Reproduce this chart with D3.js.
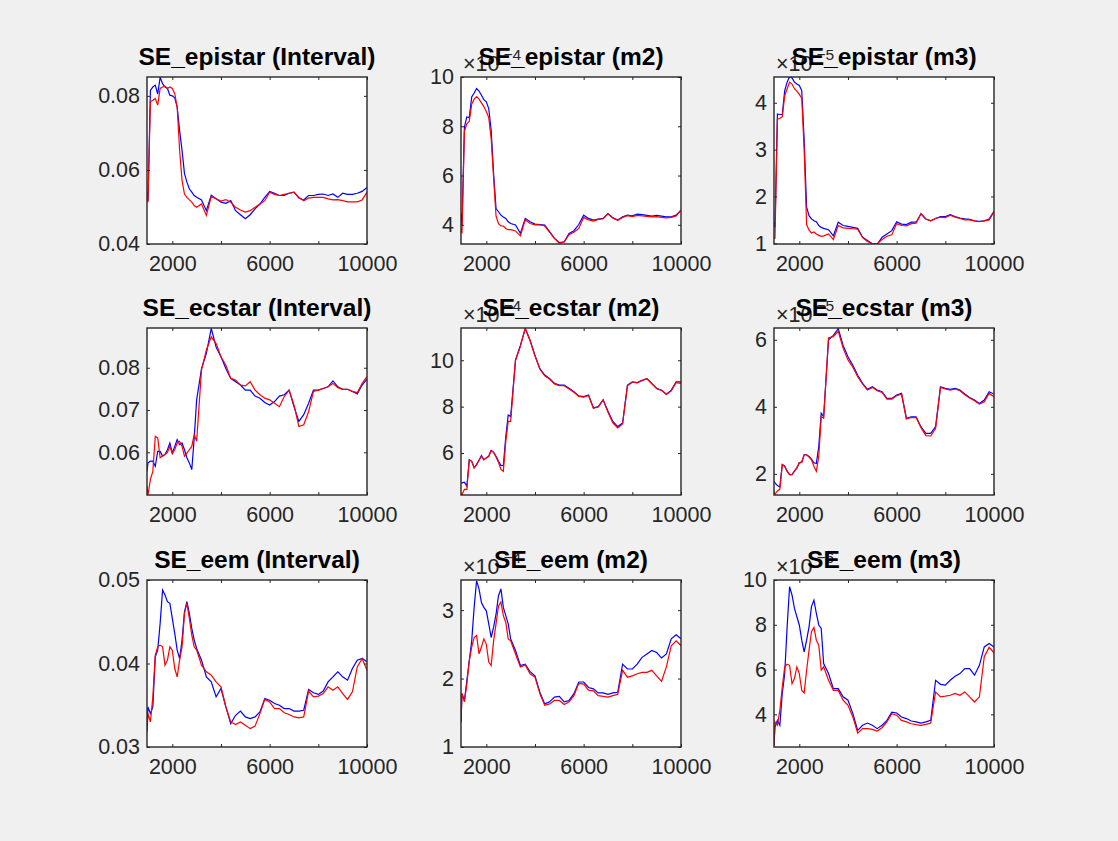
<!DOCTYPE html>
<html lang="en">
<head>
<meta charset="UTF-8">
<title>SE subplots</title>
<script src="https://cdn.jsdelivr.net/npm/d3@7/dist/d3.min.js"></script>
<style>
  body { margin: 0; background: #f0f0f0; }
  svg { display: block; }
  text { font-family: "Liberation Sans", Arial, Helvetica, sans-serif; fill: #262626; }
  .tick line { stroke: #262626; }
</style>
</head>
<body>
<svg width="1118" height="841"></svg>
<script>
// shared x grid
const xs = [960, 1000, 1100, 1200, 1300, 1400, 1500, 1600, 1700, 1800, 1900, 2000, 2100, 2200, 2300, 2400, 2500, 2600, 2700, 2800, 2900, 3000,
  3200, 3400, 3600, 3800, 4000, 4200, 4400, 4600, 4800, 5000, 5200, 5400, 5600, 5800, 6000, 6200, 6400, 6600, 6800, 7000,
  7200, 7400, 7600, 7800, 8000, 8200, 8400, 8600, 8800, 9000, 9200, 9400, 9600, 9800, 10000];

const xTicks = [2000, 4000, 6000, 8000, 10000];
const xTickLabels = ["2000", "", "6000", "", "10000"];

// SE_epistar
const epistarIntBlue = [0.054, 0.0517, 0.0815, 0.0824, 0.0829, 0.0805, 0.085, 0.0833, 0.0824, 0.082, 0.0802, 0.080, 0.0795, 0.077, 0.0707, 0.0653, 0.059, 0.0567, 0.0549, 0.054, 0.0531, 0.0526,
  0.0519, 0.049, 0.0532, 0.0522, 0.0513, 0.051, 0.0517, 0.049, 0.0479, 0.0468, 0.0479, 0.0495, 0.0508, 0.0526, 0.0542,
  0.0537, 0.0531, 0.0531, 0.0537, 0.054, 0.0524, 0.0519, 0.0531, 0.0531, 0.0534, 0.0535, 0.0531, 0.0535, 0.0526, 0.0537,
  0.0534, 0.0534, 0.0537, 0.0542, 0.0553];
const epistarIntRed = [0.054, 0.0513, 0.0784, 0.0788, 0.0793, 0.0775, 0.082, 0.0824, 0.0826, 0.082, 0.0824, 0.082, 0.0806, 0.077, 0.0653, 0.0572, 0.0535, 0.0526, 0.0519, 0.0513, 0.0504, 0.0499,
  0.0508, 0.0477, 0.0528, 0.0522, 0.0516, 0.052, 0.0513, 0.0499, 0.0492, 0.0486, 0.049, 0.0499, 0.0508, 0.0517, 0.054,
  0.0534, 0.0531, 0.0534, 0.0537, 0.054, 0.0526, 0.0517, 0.0524, 0.0526, 0.0526, 0.0526, 0.0522, 0.0519, 0.052, 0.0517,
  0.0514, 0.0514, 0.0514, 0.0519, 0.054];
const epistarM2Blue = [4.46, 3.99, 7.97, 8.38, 8.35, 9.19, 9.35, 9.53, 9.43, 9.26, 9.08, 8.99, 8.72, 7.84, 6.08, 4.66, 4.53, 4.39, 4.32, 4.26, 4.12, 4.05,
  3.99, 3.65, 4.26, 4.12, 4.03, 4.01, 3.99, 3.72, 3.45, 3.28, 3.31, 3.65, 3.76, 4.01, 4.39,
  4.26, 4.19, 4.23, 4.26, 4.46, 4.28, 4.19, 4.32, 4.39, 4.36, 4.43, 4.41, 4.38, 4.35, 4.38,
  4.35, 4.32, 4.32, 4.39, 4.59];
const epistarM2Red = [3.85, 3.65, 7.8, 8.1, 8.2, 8.9, 9.1, 9.2, 9.1, 8.95, 8.8, 8.6, 8.35, 7.5, 5.9, 4.35, 4.05, 3.95, 3.95, 3.85, 3.8, 3.8,
  3.75, 3.55, 4.2, 4.05, 4.0, 4.0, 3.95, 3.7, 3.45, 3.25, 3.3, 3.6, 3.7, 3.85, 4.3,
  4.2, 4.15, 4.22, 4.25, 4.45, 4.28, 4.18, 4.3, 4.37, 4.33, 4.38, 4.36, 4.34, 4.32, 4.33,
  4.3, 4.28, 4.3, 4.36, 4.6];
const epistarM3Blue = [1.45, 1.34, 3.76, 3.75, 3.75, 4.26, 4.44, 4.56, 4.53, 4.44, 4.4, 4.37, 4.26, 3.2, 1.77, 1.59, 1.52, 1.48, 1.46, 1.38, 1.34, 1.32,
  1.29, 1.16, 1.45, 1.38, 1.36, 1.34, 1.32, 1.13, 1.06, 0.99, 0.98, 1.13, 1.2, 1.27, 1.46,
  1.41, 1.4, 1.45, 1.45, 1.63, 1.52, 1.48, 1.53, 1.57, 1.57, 1.61, 1.57, 1.54, 1.52, 1.51,
  1.48, 1.47, 1.48, 1.52, 1.68];
const epistarM3Red = [1.14, 1.1, 3.65, 3.67, 3.7, 4.15, 4.3, 4.44, 4.4, 4.3, 4.25, 4.18, 4.1, 3.0, 1.4, 1.28, 1.22, 1.24, 1.2, 1.17, 1.15, 1.16,
  1.2, 1.08, 1.38, 1.33, 1.32, 1.31, 1.3, 1.12, 1.04, 0.99, 0.99, 1.08, 1.15, 1.18, 1.42,
  1.38, 1.37, 1.42, 1.43, 1.63, 1.52, 1.48, 1.53, 1.56, 1.55, 1.6, 1.56, 1.53, 1.5, 1.5,
  1.48, 1.46, 1.48, 1.5, 1.67];

// SE_ecstar
const ecstarIntBlue = [0.0555, 0.0575, 0.0579, 0.0579, 0.0567, 0.0602, 0.0602, 0.0591, 0.0595, 0.0606, 0.0622, 0.0598, 0.0614, 0.063, 0.0618, 0.0622, 0.0606, 0.0587, 0.0575, 0.0559, 0.0634, 0.0724,
  0.0798, 0.0834, 0.0893, 0.0849, 0.0826, 0.0798, 0.0775, 0.0767, 0.0759, 0.0747, 0.0747, 0.0733, 0.0728, 0.0718, 0.0712,
  0.072, 0.0733, 0.0736, 0.0747, 0.0708, 0.0673, 0.0689, 0.0716, 0.0747, 0.0747, 0.0751, 0.0755, 0.0769, 0.0755, 0.0749,
  0.0749, 0.0744, 0.0738, 0.0759, 0.0773];
const ecstarIntRed = [0.052, 0.0499, 0.0536, 0.0555, 0.0638, 0.0634, 0.0587, 0.0591, 0.0595, 0.06, 0.0614, 0.0597, 0.0606, 0.0622, 0.0626, 0.0614, 0.0591, 0.0598, 0.0606, 0.0614, 0.0642, 0.0626,
  0.0795, 0.0842, 0.0873, 0.0857, 0.0826, 0.0806, 0.0775, 0.0771, 0.0759, 0.0757, 0.0767, 0.0747, 0.0736, 0.0728, 0.0724,
  0.0716, 0.0708, 0.0732, 0.0747, 0.0712, 0.0661, 0.0665, 0.0696, 0.0744, 0.0747, 0.0751, 0.0755, 0.0763, 0.0753, 0.0749,
  0.0749, 0.0744, 0.0741, 0.0763, 0.0779];
const ecstarM2Blue = [4.71, 4.71, 4.74, 4.57, 5.71, 5.64, 5.36, 5.5, 5.69, 5.89, 5.71, 5.79, 5.86, 6.11, 6.03, 5.86, 5.64, 5.47, 5.46, 6.71, 7.64, 7.57,
  10.0, 10.64, 11.36, 10.86, 10.21, 9.64, 9.36, 9.21, 9.0, 8.93, 8.93, 8.79, 8.64, 8.46, 8.43,
  8.5, 7.95, 8.0, 8.3, 7.8, 7.36, 7.14, 7.3, 8.93, 9.07, 9.04, 9.14, 9.21, 9.0, 8.79,
  8.71, 8.54, 8.71, 9.07, 9.07];
const ecstarM2Red = [4.26, 4.21, 4.43, 4.43, 5.71, 5.64, 5.36, 5.5, 5.69, 5.86, 5.71, 5.79, 5.86, 6.11, 6.03, 5.83, 5.6, 5.29, 5.21, 6.5, 7.36, 7.36,
  10.0, 10.6, 11.38, 10.84, 10.18, 9.62, 9.33, 9.19, 8.98, 8.9, 8.9, 8.76, 8.62, 8.44, 8.41,
  8.48, 7.93, 7.98, 8.28, 7.76, 7.3, 7.08, 7.25, 8.9, 9.05, 9.02, 9.12, 9.2, 8.98, 8.77,
  8.7, 8.52, 8.68, 9.03, 9.0];
const ecstarM3Blue = [1.78, 1.73, 1.65, 1.61, 2.28, 2.23, 2.08, 1.98, 1.98, 2.08, 2.18, 2.33, 2.35, 2.57, 2.57, 2.52, 2.44, 2.33, 2.31, 2.82, 3.81, 3.71,
  6.0, 6.13, 6.33, 5.83, 5.49, 5.24, 4.94, 4.7, 4.52, 4.6, 4.5, 4.45, 4.25, 4.25, 4.35,
  4.4, 3.66, 3.7, 3.7, 3.4, 3.21, 3.21, 3.41, 4.6, 4.55, 4.52, 4.55, 4.5, 4.38, 4.28,
  4.2, 4.1, 4.2, 4.45, 4.38];
const ecstarM3Red = [1.49, 1.39, 1.49, 1.54, 2.28, 2.23, 2.08, 1.98, 1.98, 2.08, 2.18, 2.33, 2.35, 2.57, 2.57, 2.5, 2.42, 2.23, 2.08, 2.52, 3.71, 3.66,
  6.05, 6.1, 6.25, 5.75, 5.4, 5.18, 4.9, 4.68, 4.5, 4.58, 4.48, 4.43, 4.23, 4.23, 4.33,
  4.38, 3.64, 3.68, 3.68, 3.38, 3.14, 3.13, 3.35, 4.58, 4.53, 4.5, 4.53, 4.48, 4.36, 4.26,
  4.18, 4.08, 4.15, 4.4, 4.3];

// SE_eem
const eemIntBlue = [0.032, 0.0348, 0.034, 0.0348, 0.0408, 0.0416, 0.0448, 0.0488, 0.0482, 0.0474, 0.0472, 0.0454, 0.0436, 0.0416, 0.0406, 0.0428, 0.0462, 0.0474, 0.046, 0.0442, 0.0428, 0.0418,
  0.0404, 0.0384, 0.0378, 0.036, 0.037, 0.0348, 0.0328, 0.0338, 0.0343, 0.0336, 0.0334, 0.0336, 0.0342, 0.0358, 0.0356,
  0.0352, 0.035, 0.0346, 0.0346, 0.0343, 0.0343, 0.0344, 0.0369, 0.0365, 0.0363, 0.0367, 0.0378, 0.0384, 0.039, 0.0384,
  0.038, 0.0394, 0.0404, 0.0406, 0.0402];
const eemIntRed = [0.0318, 0.034, 0.033, 0.036, 0.041, 0.042, 0.0422, 0.042, 0.0398, 0.0404, 0.042, 0.0416, 0.0394, 0.0384, 0.0404, 0.042, 0.046, 0.0472, 0.0454, 0.0434, 0.042, 0.0416,
  0.0398, 0.039, 0.0386, 0.0378, 0.0372, 0.0348, 0.033, 0.0327, 0.033, 0.0326, 0.0322, 0.0325, 0.034, 0.0357, 0.0354,
  0.0346, 0.0346, 0.0341, 0.0339, 0.0336, 0.0335, 0.0336, 0.0367, 0.036, 0.0361, 0.0364, 0.0372, 0.0368, 0.0372, 0.0364,
  0.0357, 0.0366, 0.0396, 0.0406, 0.0392];
const eemM2Blue = [1.36, 1.78, 1.68, 1.97, 2.26, 2.55, 3.04, 3.43, 3.31, 3.11, 3.04, 2.99, 2.8, 2.6, 2.75, 2.94, 3.21, 3.31, 3.04, 2.92, 2.8, 2.58,
  2.41, 2.19, 2.21, 2.1, 2.04, 1.8, 1.63, 1.66, 1.73, 1.74, 1.66, 1.68, 1.78, 1.95, 1.95,
  1.87, 1.85, 1.79, 1.79, 1.77, 1.79, 1.8, 2.21, 2.14, 2.14, 2.21, 2.31, 2.36, 2.41, 2.38,
  2.3, 2.36, 2.58, 2.64, 2.58];
const eemM2Red = [1.36, 1.78, 1.66, 1.92, 2.26, 2.46, 2.6, 2.63, 2.36, 2.46, 2.58, 2.5, 2.24, 2.19, 2.55, 2.8, 3.06, 3.12, 2.92, 2.82, 2.58, 2.55,
  2.36, 2.17, 2.2, 2.07, 2.02, 1.78, 1.61, 1.63, 1.68, 1.68, 1.62, 1.66, 1.75, 1.93, 1.92,
  1.83, 1.82, 1.75, 1.74, 1.73, 1.75, 1.77, 2.12, 2.02, 2.04, 2.07, 2.09, 2.09, 2.12, 2.04,
  1.96, 2.17, 2.48, 2.55, 2.48];
const eemM3Blue = [2.61, 3.43, 3.73, 3.51, 4.93, 5.82, 7.91, 9.7, 9.33, 8.73, 8.36, 7.99, 7.31, 6.79, 7.31, 7.91, 8.81, 9.1, 8.51, 7.99, 7.84, 6.27,
  5.82, 5.15, 5.15, 4.78, 4.63, 4.03, 3.28, 3.51, 3.61, 3.51, 3.36, 3.51, 3.73, 4.1, 4.06,
  3.88, 3.81, 3.7, 3.66, 3.61, 3.66, 3.73, 5.52, 5.34, 5.3, 5.52, 5.7, 5.82, 6.04, 6.04,
  5.75, 6.19, 7.01, 7.16, 7.01];
const eemM3Red = [2.61, 3.66, 3.51, 4.18, 5.22, 6.12, 6.24, 6.19, 5.37, 5.6, 6.12, 5.82, 5.07, 4.96, 5.97, 6.87, 7.69, 7.88, 7.31, 7.09, 5.97, 6.12,
  5.52, 5.07, 5.07, 4.63, 4.4, 3.88, 3.16, 3.36, 3.36, 3.33, 3.25, 3.4, 3.66, 4.03, 3.96,
  3.73, 3.66, 3.58, 3.54, 3.51, 3.55, 3.61, 5.0, 4.78, 4.81, 4.85, 4.93, 4.85, 5.0, 4.78,
  4.55, 4.78, 6.57, 6.99, 6.75];

const titles = ["SE_epistar (Interval)", "SE_epistar (m2)", "SE_epistar (m3)",
                "SE_ecstar (Interval)", "SE_ecstar (m2)", "SE_ecstar (m3)",
                "SE_eem (Interval)", "SE_eem (m2)", "SE_eem (m3)"];
const exponents = [null, -4, -5, null, -4, -5, null, -4, -6];
const yDomains = [[0.04, 0.0851], [3.22, 10], [0.985, 4.55],
                  [0.0499, 0.0894], [4.19, 11.39], [1.37, 6.35],
                  [0.03, 0.05], [1.0, 3.44], [2.54, 10]];
const yTicks = [[0.04, 0.06, 0.08], [4, 6, 8, 10], [1, 2, 3, 4],
                [0.06, 0.07, 0.08], [6, 8, 10], [2, 4, 6],
                [0.03, 0.04, 0.05], [1, 2, 3], [4, 6, 8, 10]];
const blueSeries = [epistarIntBlue, epistarM2Blue, epistarM3Blue, ecstarIntBlue, ecstarM2Blue, ecstarM3Blue, eemIntBlue, eemM2Blue, eemM3Blue];
const redSeries = [epistarIntRed, epistarM2Red, epistarM3Red, ecstarIntRed, ecstarM2Red, ecstarM3Red, eemIntRed, eemM2Red, eemM3Red];

const svg = d3.select("svg");
const lefts = [147, 461, 774], tops = [77, 328, 580];
const W = 220, H = 167;
const ink = "#262626";

titles.forEach((title, i) => {
  const col = i % 3, row = Math.floor(i / 3);
  const g = svg.append("g").attr("transform", `translate(${lefts[col]},${tops[row]})`);

  const x = d3.scaleLinear().domain([960, 10000]).range([0, W]);
  const y = d3.scaleLinear().domain(yDomains[i]).range([H, 0]);

  g.append("rect").attr("width", W).attr("height", H).attr("fill", "#fff");

  g.append("clipPath").attr("id", "clip" + i)
    .append("rect").attr("width", W).attr("height", H);

  const line = d3.line().x((d, k) => x(xs[k])).y(d => y(d));
  const plot = g.append("g").attr("clip-path", `url(#clip${i})`);
  plot.append("path").datum(blueSeries[i]).attr("d", line)
    .attr("fill", "none").attr("stroke", "#0000ff").attr("stroke-width", 1.2);
  plot.append("path").datum(redSeries[i]).attr("d", line)
    .attr("fill", "none").attr("stroke", "#ff0000").attr("stroke-width", 1.2);

  const fmt = exponents[i] === null ? d3.format(".2f") : d3.format("d");
  const tk = 3;

  const styleAxis = sel => {
    sel.select(".domain").remove();
    sel.selectAll("text").style("font-size", "21.5px").attr("fill", ink);
  };

  g.append("g").attr("transform", `translate(0,${H})`)
    .call(d3.axisBottom(x).tickValues(xTicks).tickFormat((d, k) => xTickLabels[k]).tickSize(-tk).tickPadding(11.5))
    .call(styleAxis);
  g.append("g")
    .call(d3.axisTop(x).tickValues(xTicks).tickFormat("").tickSize(-tk))
    .call(styleAxis);
  g.append("g")
    .call(d3.axisLeft(y).tickValues(yTicks[i]).tickFormat(fmt).tickSize(-tk).tickPadding(7))
    .call(styleAxis);
  g.append("g").attr("transform", `translate(${W},0)`)
    .call(d3.axisRight(y).tickValues(yTicks[i]).tickFormat("").tickSize(-tk))
    .call(styleAxis);

  g.append("rect").attr("width", W).attr("height", H)
    .attr("fill", "none").attr("stroke", ink).attr("stroke-width", 1.4);

  // MATLAB-style exponent label; the title sits over it as in the original
  if (exponents[i] !== null) {
    const base = g.append("text").attr("x", 2).attr("y", -6)
      .style("font-size", "21.5px").text("\u00d710");
    const w = base.node().getComputedTextLength();
    g.append("text").attr("x", 2 + w + 4).attr("y", -17)
      .style("font-size", "15.5px").text("\u2212" + Math.abs(exponents[i]));
  }

  g.append("text").attr("x", W / 2).attr("y", -12)
    .attr("text-anchor", "middle")
    .style("font-size", "24.5px").style("font-weight", "bold")
    .style("fill", "#000")
    .text(title);
});
</script>
</body>
</html>
